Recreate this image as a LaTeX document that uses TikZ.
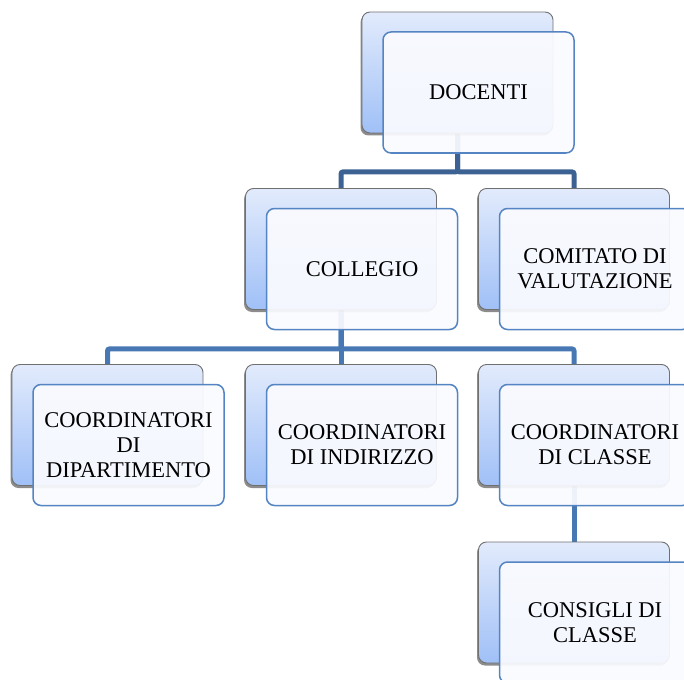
\documentclass[tikz,border=0pt]{standalone}
\usepackage{fontspec}
\setmainfont{Liberation Serif}
\usepackage{xcolor}
\usepackage{tikz}
\usetikzlibrary{shadows,backgrounds,calc}
\definecolor{backtop}{RGB}{226,235,252}
\definecolor{backbot}{RGB}{160,192,247}
\definecolor{backline}{RGB}{112,112,112}
\definecolor{frontfill}{RGB}{250,251,255}
\definecolor{frontline}{RGB}{84,132,194}
\definecolor{linkone}{RGB}{60,98,148}
\definecolor{linktwo}{RGB}{72,120,180}

\begin{document}
\begin{tikzpicture}[x=1pt, y=-1pt,
    back/.style={draw=backline, line width=0.9pt, rounded corners=8pt,
        minimum width=191pt, minimum height=121pt,
        top color=backtop, bottom color=backbot,
        drop shadow={shadow xshift=-1.5pt, shadow yshift=-2.5pt, opacity=0.45, fill=black}},
    front/.style={draw=frontline, line width=1.5pt, rounded corners=8pt,
        minimum width=191pt, minimum height=121pt,
        fill=frontfill, fill opacity=0.93, text opacity=1, align=center,
        font=\fontsize{22.5}{25}\selectfont},
    linkA/.style={line width=5pt, draw=linkone, rounded corners=2pt},
    linkB/.style={line width=5pt, draw=linktwo, rounded corners=2pt}]
    \useasboundingbox (0,0) rectangle (684,679);
    \clip (0,0) rectangle (684,679);
    \foreach \n/\cx/\cy/\txt in {doc/457.5/72.5/DOCENTI,
                                 col/341/249/COLLEGIO,
                                 com/574/249/{COMITATO DI\\VALUTAZIONE},
                                 dip/107.5/425/{COORDINATORI\\DI\\DIPARTIMENTO},
                                 ind/341/425/{COORDINATORI\\DI INDIRIZZO},
                                 cla/574/425/{COORDINATORI\\DI CLASSE},
                                 con/574/602.5/{CONSIGLI DI\\CLASSE}}
    {
        \node[back] (\n-b) at (\cx,\cy) {};
        \node[front] (\n) at ($(\n-b)+(21,20)$) {\txt};
    }
    \begin{scope}[on background layer]
        \draw[linkA] (doc-b.south) -- ++(0,38.5) -| (col-b.north);
        \draw[linkA] (doc-b.south) -- ++(0,38.5) -| (com-b.north);
        \draw[linkB] (col-b.south) -- ++(0,39) -| (dip-b.north);
        \draw[linkB] (col-b.south) -- (ind-b.north);
        \draw[linkB] (col-b.south) -- ++(0,39) -| (cla-b.north);
        \draw[linkB] (cla-b.south) -- (con-b.north);
    \end{scope}
\end{tikzpicture}
\end{document}
